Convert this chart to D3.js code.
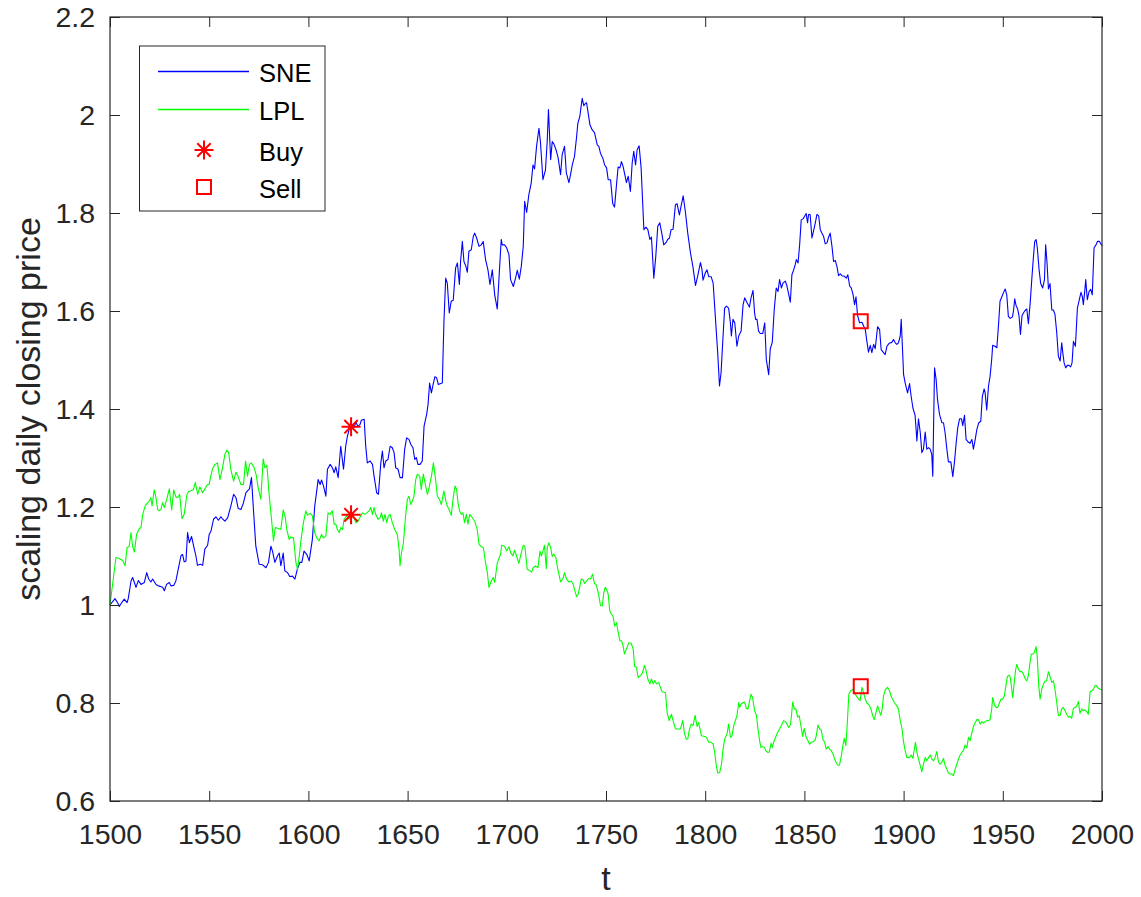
<!DOCTYPE html>
<html>
<head>
<meta charset="utf-8">
<script src="https://cdn.jsdelivr.net/npm/d3@7"></script>
<style>
  html, body { margin: 0; padding: 0; background: #fff; }
  svg { display: block; }
  text { font-family: "Liberation Sans", Arial, Helvetica, sans-serif; }
</style>
</head>
<body>
<svg id="chart" width="1141" height="897"></svg>
<script>
// ---------------- data ----------------
const xTicks = [1500, 1550, 1600, 1650, 1700, 1750, 1800, 1850, 1900, 1950, 2000];
const yTicks = [0.6, 0.8, 1.0, 1.2, 1.4, 1.6, 1.8, 2.0, 2.2];
const yTickLabels = ["0.6", "0.8", "1", "1.2", "1.4", "1.6", "1.8", "2", "2.2"];
const xLabel = "t";
const yLabel = "scaling daily closing price";
const legendLabels = ["SNE", "LPL", "Buy", "Sell"];

// SNE scaled closing price [t, value]
const sne = [
[1500,1.000],[1502.5,1.013],[1503.9,1.004],[1504.7,0.997],[1505.9,1.005],[1507.2,1.012],[1508.6,1.005],[1509.2,1.013],
[1510.6,1.049],[1511.4,1.056],[1512.3,1.046],[1513.1,1.036],[1514.3,1.050],[1515.6,1.042],[1517.3,1.046],[1518.5,1.066],
[1519.5,1.053],[1520.6,1.047],[1521.5,1.053],[1523.2,1.042],[1524.3,1.039],[1525.4,1.038],[1526.5,1.036],[1527.4,1.029],
[1528.5,1.042],[1529.9,1.046],[1530.7,1.039],[1532.1,1.040],[1533.2,1.049],[1534.4,1.073],[1535.8,1.101],[1536.6,1.103],
[1537.4,1.088],[1538.3,1.090],[1539.1,1.148],[1540.0,1.127],[1541.1,1.140],[1542.5,1.114],[1543.3,1.100],[1544.1,1.081],
[1545.5,1.083],[1546.7,1.081],[1547.8,1.114],[1549.2,1.122],[1550.0,1.144],[1550.9,1.151],[1552.2,1.175],[1553.4,1.180],
[1554.6,1.173],[1555.9,1.180],[1556.7,1.176],[1557.9,1.171],[1559.3,1.178],[1560.9,1.202],[1562.3,1.226],[1563.5,1.219],
[1564.6,1.197],[1566.0,1.195],[1567.3,1.209],[1568.5,1.229],[1569.3,1.233],[1570.3,1.237],[1571.3,1.260],[1572.3,1.195],
[1573.5,1.120],[1575.2,1.083],[1576.9,1.082],[1578.6,1.076],[1579.9,1.087],[1581.1,1.120],[1581.9,1.110],[1583.1,1.087],
[1584.4,1.100],[1585.3,1.106],[1586.1,1.080],[1587.3,1.106],[1588.1,1.070],[1589.5,1.066],[1590.6,1.058],[1592.0,1.059],
[1593.2,1.053],[1594.5,1.074],[1595.7,1.087],[1596.7,1.087],
[1597.8,1.110],[1599.2,1.103],[1600.4,1.090],[1602.0,1.134],[1603.2,1.202],[1604.2,1.233],[1604.9,1.256],[1605.9,1.246],
[1606.6,1.255],[1607.6,1.243],[1608.8,1.222],[1609.6,1.277],[1611.0,1.287],[1612.1,1.280],[1613.0,1.270],[1613.8,1.282],
[1615.0,1.260],[1616.3,1.324],[1617.7,1.277],[1618.8,1.324],[1619.7,1.345],[1621.0,1.365],[1622.2,1.368],[1623.0,1.362],
[1623.9,1.373],[1625.0,1.365],[1626.0,1.368],[1626.7,1.377],[1628.1,1.379],[1628.9,1.324],[1629.7,1.290],[1631.1,1.294],
[1632.3,1.287],[1633.1,1.263],[1634.4,1.229],[1635.3,1.226],[1636.5,1.290],[1637.3,1.314],[1638.1,1.280],[1639.0,1.294],
[1640.1,1.297],[1641.2,1.324],[1642.3,1.321],[1643.2,1.311],[1644.0,1.280],[1645.2,1.277],[1646.2,1.260],[1647.4,1.260],
[1648.5,1.317],[1649.5,1.341],[1650.7,1.338],[1651.6,1.328],[1652.7,1.321],[1653.6,1.297],[1654.4,1.301],[1655.2,1.287],
[1656.3,1.287],[1657.4,1.294],[1658.3,1.365],[1659.6,1.389],[1660.3,1.409],[1661.1,1.453],[1662.0,1.433],[1663.0,1.453],
[1663.8,1.466],[1664.6,1.464],[1665.5,1.450],[1666.7,1.452],[1667.5,1.453],[1668.3,1.576],[1669.2,1.667],[1670.0,1.657],
[1671.0,1.596],[1672.0,1.620],[1673.0,1.622],[1674.2,1.688],[1675.1,1.698],[1676.1,1.654],[1676.7,1.701],[1677.6,1.742],
[1678.4,1.701],[1679.4,1.691],[1680.1,1.679],[1680.9,1.722],[1682.1,1.725],[1683.1,1.752],[1683.8,1.759],[1684.8,1.749],
[1686.0,1.732],[1687.1,1.735],[1688.1,1.742],[1689.3,1.705],[1690.5,1.684],[1691.5,1.654],[1692.7,1.684],[1693.9,1.633],
[1695.2,1.604],[1696.4,1.691],[1697.2,1.746],
[1697.7,1.735],[1698.9,1.735],[1699.9,1.729],[1701.1,1.715],[1701.9,1.664],[1703.3,1.650],[1704.4,1.667],[1705.3,1.683],
[1706.3,1.665],[1707.3,1.691],[1708.3,1.732],[1709.0,1.824],[1710.0,1.801],[1711.1,1.837],[1712.3,1.861],[1713.2,1.898],
[1714.0,1.890],[1715.0,1.936],[1716.2,1.973],[1717.0,1.943],[1718.2,1.868],[1719.5,1.888],[1720.4,1.949],[1721.0,2.011],
[1722.1,1.909],[1722.9,1.946],[1723.7,1.941],[1724.9,1.928],[1725.9,1.912],[1727.1,1.878],[1727.9,1.919],[1729.1,1.936],
[1730.0,1.882],[1731.3,1.862],[1732.1,1.878],[1733.0,1.898],[1734.1,1.915],[1735.2,1.956],[1735.8,1.983],[1736.8,1.997],
[1738.0,2.034],[1738.8,2.019],[1739.7,2.024],[1740.2,2.025],[1740.9,2.007],[1741.9,1.980],[1743.0,1.970],[1744.2,1.964],
[1745.6,1.939],[1746.4,1.936],[1747.2,1.922],[1748.4,1.912],[1749.3,1.898],[1750.3,1.892],[1751.1,1.868],[1752.3,1.868],
[1753.4,1.819],[1754.3,1.812],[1755.3,1.858],[1756.1,1.894],[1757.0,1.892],[1757.8,1.905],[1758.6,1.895],[1759.5,1.878],
[1760.3,1.862],[1761.2,1.875],[1762.3,1.844],[1763.2,1.902],[1764.0,1.926],[1764.9,1.898],[1765.7,1.929],[1766.7,1.937],
[1767.7,1.892],[1769.1,1.766],[1770.1,1.771],[1771.1,1.766],[1772.1,1.746],[1772.9,1.751],[1774.1,1.667],[1775.1,1.712],
[1776.1,1.773],[1777.1,1.780],[1778.1,1.759],[1779.1,1.735],[1780.3,1.740],[1781.1,1.746],[1782.0,1.749],[1782.8,1.766],
[1783.8,1.767],[1785.0,1.817],[1785.8,1.819],[1787.0,1.796],[1787.8,1.813],[1788.9,1.835],[1790.0,1.803],[1791.2,1.759],
[1792.6,1.718],[1793.9,1.688],[1795.1,1.652],[1796.2,1.671],
[1797.6,1.699],[1798.4,1.684],[1798.9,1.663],[1800.1,1.678],[1800.9,1.684],[1801.8,1.670],[1803.0,1.670],[1804.0,1.657],
[1805.1,1.589],[1806.3,1.515],[1807.2,1.447],[1808.0,1.474],[1809.0,1.549],[1809.8,1.606],[1810.7,1.610],[1811.8,1.606],
[1812.7,1.576],[1813.2,1.549],[1814.0,1.583],[1814.9,1.576],[1816.0,1.528],[1816.9,1.549],[1818.1,1.559],[1819.1,1.613],
[1819.9,1.627],[1821.1,1.617],[1822.3,1.608],[1823.1,1.627],[1824.1,1.642],[1824.9,1.596],[1825.4,1.583],[1826.1,1.583],
[1826.9,1.559],[1827.8,1.554],[1829.0,1.554],[1830.0,1.576],[1830.8,1.501],[1832.0,1.470],[1832.8,1.523],[1833.8,1.536],
[1834.8,1.603],[1835.8,1.647],[1836.7,1.640],[1837.5,1.664],[1838.4,1.647],[1839.2,1.657],[1840.4,1.661],[1841.2,1.651],
[1842.1,1.634],[1842.9,1.618],[1843.7,1.674],[1844.6,1.684],[1845.4,1.695],[1845.9,1.705],[1846.8,1.698],[1847.6,1.735],
[1848.4,1.786],[1849.3,1.788],[1849.9,1.792],[1850.9,1.799],[1851.6,1.780],[1852.1,1.797],[1852.9,1.797],[1853.8,1.749],
[1854.6,1.763],[1855.5,1.780],[1856.3,1.797],[1857.2,1.794],[1858.0,1.766],[1858.8,1.759],[1859.7,1.752],[1860.5,1.737],
[1861.4,1.739],[1862.2,1.751],[1863.0,1.759],[1863.9,1.732],[1864.7,1.701],[1865.6,1.703],[1866.4,1.691],[1867.2,1.672],
[1868.1,1.676],[1868.9,1.672],[1870.1,1.671],[1871.1,1.667],[1871.9,1.674],[1872.8,1.651],[1873.6,1.647],[1874.5,1.634],
[1875.3,1.613],[1876.0,1.629],[1876.8,1.591],[1877.8,1.576],[1879.0,1.577],[1879.8,1.570],[1880.7,1.562],[1881.5,1.538],
[1882.3,1.516],[1883.2,1.530],[1884.0,1.515],[1884.9,1.532],[1885.7,1.523],[1886.9,1.568],[1887.9,1.562],[1888.7,1.521],
[1889.9,1.515],[1890.7,1.511],[1891.6,1.528],[1892.7,1.534],[1894.1,1.536],[1894.9,1.542],[1895.8,1.535],[1896.6,1.532],
[1897.4,1.535],[1898.3,1.549],[1898.8,1.583],
[1900.0,1.470],[1900.8,1.453],[1902.0,1.433],[1903.0,1.452],[1903.8,1.426],[1904.7,1.402],[1905.8,1.387],[1906.7,1.335],
[1907.5,1.380],[1908.4,1.352],[1909.2,1.311],[1910.0,1.318],[1910.9,1.353],[1911.7,1.318],[1912.6,1.321],[1913.4,1.318],
[1914.2,1.307],[1914.7,1.263],[1915.6,1.484],[1916.4,1.460],[1917.1,1.419],[1918.1,1.389],[1919.3,1.372],[1920.1,1.372],
[1920.9,1.352],[1921.8,1.318],[1922.6,1.292],[1923.8,1.292],[1924.8,1.262],[1925.6,1.290],[1926.5,1.331],[1927.3,1.362],
[1928.2,1.380],[1929.2,1.380],[1929.8,1.366],[1930.7,1.387],[1931.5,1.338],[1932.7,1.332],[1933.5,1.330],[1934.4,1.338],
[1935.2,1.318],[1936.1,1.338],[1936.9,1.358],[1937.9,1.372],[1938.9,1.375],[1939.7,1.426],[1940.6,1.441],[1941.1,1.433],
[1941.9,1.398],[1942.8,1.447],[1943.6,1.467],[1944.4,1.501],[1944.9,1.530],[1946.1,1.528],[1947.0,1.525],[1947.8,1.569],
[1948.6,1.620],[1949.5,1.629],[1950.3,1.637],[1951.2,1.645],[1952.0,1.633],[1952.8,1.589],[1953.7,1.585],[1954.9,1.588],
[1955.5,1.604],[1956.0,1.625],[1956.7,1.611],[1957.5,1.604],[1958.2,1.589],[1958.9,1.552],[1959.7,1.591],[1960.4,1.596],
[1961.2,1.601],[1962.1,1.604],[1962.9,1.574],[1963.8,1.616],[1964.6,1.664],[1965.4,1.708],[1966.1,1.742],[1966.8,1.746],
[1967.4,1.729],[1968.3,1.684],[1969.1,1.656],[1970.1,1.647],[1971.0,1.664],[1971.6,1.735],[1972.3,1.698],[1973.0,1.645],
[1973.8,1.656],[1974.7,1.602],[1975.5,1.602],[1976.3,1.593],[1977.2,1.555],[1978.0,1.508],[1978.9,1.498],[1979.7,1.535],
[1980.2,1.516],[1980.9,1.494],[1981.7,1.484],[1982.5,1.489],[1983.4,1.489],[1984.2,1.486],[1984.9,1.494],[1985.6,1.538],
[1986.6,1.528],[1987.6,1.606],[1988.4,1.620],[1989.4,1.638],[1990.1,1.629],[1990.6,1.613],[1991.3,1.640],[1991.8,1.664],
[1992.6,1.623],[1993.5,1.640],[1994.3,1.644],[1995.1,1.633],[1996.0,1.729],[1997.0,1.735],[1997.7,1.742],[1998.7,1.742],
[2000.0,1.733]
];

// LPL scaled closing price [t, value]
const lpl = [
[1500,1.000],[1503.0,1.097],[1504.7,1.095],[1506.4,1.091],[1507.6,1.080],[1508.6,1.117],[1509.7,1.120],[1510.6,1.148],
[1511.4,1.120],[1512.3,1.108],[1513.4,1.144],[1514.8,1.156],[1515.6,1.158],[1516.5,1.185],[1517.8,1.203],[1519.0,1.209],
[1519.8,1.212],[1520.6,1.219],[1521.2,1.202],[1522.3,1.235],[1523.2,1.219],[1524.0,1.195],[1524.8,1.192],[1525.7,1.195],
[1526.5,1.209],[1527.4,1.199],[1528.5,1.214],[1529.9,1.237],[1531.1,1.194],[1532.1,1.235],[1533.2,1.221],[1534.1,1.219],
[1535.1,1.226],[1536.3,1.176],[1537.4,1.185],[1538.8,1.226],[1539.5,1.231],[1540.8,1.233],[1542.0,1.235],[1543.0,1.250],
[1544.2,1.226],[1545.3,1.241],[1546.7,1.229],[1547.8,1.237],[1549.2,1.246],[1550.0,1.246],[1550.9,1.265],[1551.7,1.278],
[1552.9,1.287],[1554.2,1.290],[1555.4,1.256],[1556.7,1.280],[1557.9,1.307],[1558.9,1.316],[1559.8,1.311],[1560.9,1.277],
[1562.3,1.253],[1563.5,1.271],[1564.6,1.262],[1566.0,1.246],[1567.3,1.246],[1568.3,1.294],[1569.3,1.263],[1570.3,1.287],
[1571.3,1.290],[1572.7,1.280],[1573.7,1.265],[1574.7,1.239],[1576.0,1.216],[1577.2,1.298],[1578.1,1.280],[1579.1,1.285],
[1580.2,1.226],[1581.4,1.175],[1582.4,1.131],[1583.3,1.158],[1584.8,1.156],[1586.1,1.154],[1587.3,1.194],[1588.3,1.180],
[1589.1,1.154],[1590.3,1.134],[1591.2,1.139],[1592.5,1.137],[1593.7,1.087],[1594.5,1.073],[1595.4,1.100],
[1596.2,1.131],[1597.5,1.168],[1598.7,1.192],[1599.5,1.183],[1600.9,1.187],[1602.0,1.182],[1603.2,1.148],[1604.2,1.137],
[1605.4,1.131],[1606.6,1.144],[1607.6,1.137],[1608.8,1.141],[1609.9,1.188],[1610.9,1.185],[1612.1,1.192],[1613.0,1.165],
[1613.8,1.165],[1614.6,1.154],[1615.5,1.148],[1616.3,1.158],[1617.2,1.154],[1618.0,1.175],[1619.3,1.182],[1620.5,1.175],
[1621.7,1.188],[1622.7,1.182],[1623.9,1.168],[1625.0,1.171],[1626.4,1.182],[1627.2,1.188],[1628.4,1.185],[1629.4,1.188],
[1630.6,1.192],[1631.4,1.199],[1632.3,1.185],[1633.1,1.199],[1633.9,1.185],[1635.1,1.175],[1636.1,1.178],[1636.8,1.188],
[1637.8,1.171],[1638.6,1.185],[1639.5,1.168],[1640.3,1.182],[1641.2,1.185],[1642.3,1.168],[1643.5,1.154],[1644.8,1.144],
[1645.7,1.114],[1646.2,1.080],[1646.9,1.107],[1647.9,1.127],[1649.0,1.182],[1649.9,1.216],[1650.7,1.222],[1651.6,1.205],
[1652.4,1.212],[1653.2,1.222],[1654.1,1.256],[1654.9,1.267],[1656.1,1.263],[1656.9,1.236],[1657.9,1.267],[1659.1,1.243],
[1660.0,1.226],[1660.8,1.239],[1662.0,1.263],[1663.0,1.290],[1664.1,1.256],[1665.0,1.222],[1666.0,1.216],[1667.0,1.205],
[1668.3,1.233],[1669.3,1.212],[1670.0,1.202],[1670.9,1.195],[1672.0,1.183],[1673.0,1.219],[1673.9,1.243],[1674.7,1.236],
[1675.4,1.209],[1676.2,1.192],[1677.1,1.185],[1677.9,1.188],[1678.7,1.168],[1679.6,1.185],[1680.4,1.165],[1681.3,1.185],
[1682.6,1.178],[1683.8,1.171],[1685.1,1.154],[1686.0,1.124],[1686.8,1.120],[1688.2,1.117],[1689.3,1.086],[1690.2,1.066],
[1691.0,1.036],[1692.2,1.049],[1693.2,1.056],[1693.9,1.046],[1695.2,1.086],
[1696.9,1.104],[1697.4,1.122],[1698.9,1.120],[1699.9,1.110],[1701.1,1.119],[1701.9,1.107],[1703.1,1.100],[1703.9,1.112],
[1704.9,1.100],[1706.1,1.085],[1707.3,1.107],[1708.3,1.122],[1709.1,1.120],[1710.3,1.073],[1711.6,1.070],[1712.5,1.067],
[1713.3,1.076],[1714.5,1.080],[1715.7,1.076],[1716.7,1.110],[1717.4,1.100],[1718.0,1.107],[1719.0,1.122],[1719.9,1.074],
[1720.4,1.117],[1721.2,1.127],[1722.1,1.117],[1722.9,1.099],[1723.7,1.104],[1724.7,1.097],[1725.7,1.073],[1727.1,1.047],
[1728.3,1.054],[1729.1,1.066],[1730.1,1.053],[1731.3,1.047],[1732.5,1.049],[1733.5,1.042],[1734.3,1.029],[1735.2,1.017],
[1736.0,1.022],[1736.7,1.036],[1737.5,1.053],[1738.5,1.051],[1739.2,1.044],[1740.2,1.049],[1741.2,1.054],[1742.2,1.053],
[1743.2,1.063],[1744.2,1.044],[1745.2,1.040],[1746.4,1.019],[1747.2,0.999],[1748.1,0.998],[1748.9,1.025],[1749.6,1.036],
[1750.3,1.032],[1751.1,1.022],[1751.9,0.988],[1752.8,0.981],[1753.6,0.976],[1754.4,0.957],[1755.3,0.964],[1756.0,0.947],
[1757.0,0.927],[1757.8,0.927],[1758.6,0.917],[1759.3,0.900],[1760.3,0.910],[1761.5,0.923],[1762.7,0.922],[1763.7,0.910],
[1764.4,0.875],[1765.4,0.873],[1766.2,0.852],[1767.4,0.856],[1768.4,0.862],[1769.4,0.877],[1770.2,0.866],[1771.1,0.849],
[1772.1,0.839],[1772.9,0.849],[1773.8,0.839],[1774.6,0.846],[1775.4,0.839],[1776.6,0.842],[1777.4,0.832],[1778.3,0.823],
[1780.0,0.821],[1780.8,0.781],[1781.8,0.764],[1783.0,0.777],[1783.8,0.764],[1785.0,0.747],[1786.2,0.747],[1787.5,0.747],
[1788.7,0.764],[1789.5,0.739],[1790.5,0.726],[1791.2,0.726],[1791.9,0.743],[1792.9,0.757],[1793.9,0.754],[1794.9,0.775],
[1795.9,0.752],[1796.7,0.760],
[1798.1,0.733],[1799.3,0.732],[1800.6,0.730],[1801.8,0.720],[1803.0,0.720],[1804.0,0.716],[1804.8,0.699],[1805.6,0.672],
[1806.3,0.657],[1807.3,0.658],[1808.2,0.675],[1809.0,0.706],[1809.8,0.726],[1811.0,0.737],[1811.8,0.757],[1812.7,0.730],
[1813.5,0.733],[1814.4,0.754],[1815.2,0.764],[1816.0,0.774],[1816.9,0.801],[1817.4,0.791],[1818.1,0.798],[1819.1,0.801],
[1819.9,0.802],[1820.7,0.789],[1821.6,0.788],[1822.4,0.805],[1823.1,0.818],[1823.9,0.811],[1824.9,0.784],[1825.8,0.775],
[1826.6,0.747],[1827.5,0.721],[1828.1,0.709],[1829.0,0.711],[1829.8,0.709],[1830.6,0.703],[1831.5,0.699],[1832.3,0.700],
[1833.2,0.718],[1833.8,0.709],[1834.5,0.720],[1835.5,0.730],[1836.5,0.740],[1837.5,0.747],[1838.5,0.755],[1839.5,0.764],
[1840.4,0.762],[1841.2,0.757],[1842.1,0.750],[1842.9,0.755],[1843.4,0.771],[1844.1,0.802],[1844.9,0.788],[1845.7,0.788],
[1846.6,0.771],[1847.4,0.774],[1848.3,0.752],[1849.1,0.732],[1849.9,0.748],[1850.9,0.730],[1851.8,0.723],[1852.6,0.716],
[1853.5,0.720],[1854.3,0.721],[1855.2,0.723],[1856.0,0.733],[1856.8,0.755],[1857.7,0.747],[1858.5,0.745],[1859.3,0.726],
[1860.2,0.720],[1861.0,0.706],[1861.9,0.711],[1862.7,0.706],[1863.5,0.703],[1864.4,0.696],[1865.2,0.686],[1866.1,0.677],
[1866.9,0.673],[1867.7,0.673],[1868.6,0.692],[1869.4,0.713],[1870.1,0.728],[1870.9,0.713],[1871.6,0.757],[1872.4,0.818],
[1873.4,0.825],[1874.5,0.828],[1875.1,0.821],[1876.1,0.815],[1877.3,0.808],[1878.1,0.805],[1879.0,0.832],[1879.8,0.821],
[1880.7,0.808],[1881.5,0.800],[1882.7,0.796],[1883.5,0.788],[1884.5,0.773],[1885.2,0.766],[1886.0,0.779],[1886.9,0.794],
[1887.7,0.784],[1888.5,0.775],[1889.2,0.788],[1889.9,0.815],[1890.9,0.828],[1891.9,0.832],[1892.9,0.825],[1893.6,0.815],
[1894.4,0.808],[1895.3,0.801],[1896.6,0.794],[1897.4,0.788],
[1898.3,0.764],[1899.1,0.750],[1900.0,0.720],[1900.8,0.703],[1901.6,0.689],[1903.0,0.689],[1903.8,0.694],[1904.7,0.687],
[1905.3,0.703],[1906.0,0.720],[1906.7,0.699],[1907.5,0.686],[1908.4,0.672],[1909.2,0.660],[1910.0,0.675],[1910.9,0.689],
[1911.7,0.682],[1912.6,0.689],[1913.4,0.694],[1914.2,0.686],[1915.1,0.682],[1915.9,0.689],[1916.7,0.701],[1917.6,0.680],
[1918.4,0.675],[1919.3,0.679],[1920.1,0.687],[1920.9,0.673],[1921.8,0.665],[1922.6,0.657],[1923.5,0.655],[1924.3,0.655],
[1925.1,0.652],[1926.0,0.665],[1926.8,0.675],[1927.7,0.686],[1928.5,0.694],[1929.3,0.699],[1930.2,0.703],[1931.0,0.714],
[1931.9,0.709],[1932.7,0.730],[1933.5,0.723],[1934.4,0.739],[1935.2,0.752],[1936.1,0.760],[1936.9,0.766],[1937.7,0.766],
[1938.6,0.757],[1939.4,0.762],[1940.3,0.759],[1941.1,0.762],[1941.9,0.764],[1942.8,0.764],[1943.6,0.766],[1944.4,0.788],
[1944.9,0.811],[1945.8,0.796],[1946.6,0.791],[1947.5,0.791],[1948.3,0.800],[1949.1,0.808],[1950.0,0.808],[1950.8,0.815],
[1951.7,0.839],[1952.3,0.854],[1953.2,0.857],[1953.8,0.852],[1954.5,0.828],[1955.0,0.811],[1955.7,0.839],[1956.4,0.866],
[1957.0,0.879],[1957.9,0.869],[1958.7,0.864],[1959.6,0.864],[1960.4,0.859],[1961.2,0.850],[1962.1,0.845],[1962.9,0.856],
[1963.7,0.883],[1964.4,0.900],[1965.4,0.900],[1965.9,0.903],[1966.8,0.915],[1967.4,0.893],[1968.1,0.835],[1968.8,0.808],
[1969.6,0.828],[1970.5,0.839],[1971.3,0.845],[1972.1,0.845],[1973.0,0.864],[1973.8,0.854],[1974.7,0.842],[1975.5,0.845],
[1976.3,0.828],[1977.2,0.801],[1978.0,0.774],[1978.9,0.775],[1979.7,0.788],[1980.5,0.791],[1981.4,0.784],[1982.2,0.777],
[1983.1,0.771],[1983.9,0.773],[1984.7,0.769],[1985.6,0.789],[1986.4,0.791],[1987.2,0.793],[1988.1,0.803],[1988.9,0.779],
[1989.8,0.788],[1990.6,0.784],[1991.4,0.786],[1992.3,0.782],[1993.1,0.777],[1994.0,0.823],[1994.8,0.825],[1995.6,0.828],
[1996.5,0.835],[1997.0,0.836],[1998.2,0.830],[1999.0,0.828],[2000.0,0.827]
];

// trade signals [t, value]
const buyPoints = [[1621.5, 1.364], [1621.5, 1.184]];
const sellPoints = [[1878.4, 1.579], [1878.4, 0.834]];

// ---------------- drawing ----------------
const W = 1141, H = 897;
const plot = { left: 110, right: 1102, top: 17, bottom: 801 };
const axisColor = "#262626";
const FONT_TICK = 28.5, FONT_LABEL = 34, FONT_LEGEND = 25.5;

const svg = d3.select("#chart");
svg.append("rect").attr("width", W).attr("height", H).attr("fill", "#fff");

const x = d3.scaleLinear().domain([1500, 2000]).range([plot.left, plot.right]);
const y = d3.scaleLinear().domain([0.6, 2.2]).range([plot.bottom, plot.top]);

const line = d3.line().x(d => x(d[0])).y(d => y(d[1]));

svg.append("path").datum(sne).attr("d", line)
  .attr("fill", "none").attr("stroke", "#0000ff").attr("stroke-width", 1.1).attr("stroke-linejoin", "round");
svg.append("path").datum(lpl).attr("d", line)
  .attr("fill", "none").attr("stroke", "#00ff00").attr("stroke-width", 1.1).attr("stroke-linejoin", "round");

// markers
function asteriskPath(r) {
  const d = r * Math.SQRT1_2;
  return `M${-r},0L${r},0M0,${-r}L0,${r}M${-d},${-d}L${d},${d}M${-d},${d}L${d},${-d}`;
}
function squarePath(s) {
  const h = s / 2;
  return `M${-h},${-h}H${h}V${h}H${-h}Z`;
}
svg.append("g").selectAll("path").data(buyPoints).join("path")
  .attr("transform", d => `translate(${x(d[0])},${y(d[1])})`)
  .attr("d", asteriskPath(9.5)).attr("fill", "none").attr("stroke", "#ff0000").attr("stroke-width", 2);
svg.append("g").selectAll("path").data(sellPoints).join("path")
  .attr("transform", d => `translate(${x(d[0])},${y(d[1])})`)
  .attr("d", squarePath(14)).attr("fill", "none").attr("stroke", "#ff0000").attr("stroke-width", 2);

// axes
function styleAxis(g) {
  g.select(".domain").remove();
  g.selectAll(".tick line").attr("stroke", axisColor).attr("stroke-width", 1);
  g.selectAll(".tick text").attr("fill", axisColor)
    .style("font-family", '"Liberation Sans", Arial, Helvetica, sans-serif');
}

svg.append("g").attr("transform", `translate(0,${plot.bottom})`)
  .call(d3.axisBottom(x).tickValues(xTicks).tickFormat(d3.format("d")).tickSizeInner(-10).tickSizeOuter(0).tickPadding(23))
  .call(styleAxis)
  .call(g => g.selectAll(".tick text").attr("font-size", FONT_TICK));

svg.append("g").attr("transform", `translate(0,${plot.top})`)
  .call(d3.axisTop(x).tickValues(xTicks).tickFormat("").tickSizeInner(-10).tickSizeOuter(0))
  .call(styleAxis);

svg.append("g").attr("transform", `translate(${plot.left},0)`)
  .call(d3.axisLeft(y).tickValues(yTicks).tickFormat((d, i) => yTickLabels[i]).tickSizeInner(-10).tickSizeOuter(0).tickPadding(15))
  .call(styleAxis)
  .call(g => g.selectAll(".tick text").attr("font-size", FONT_TICK));

svg.append("g").attr("transform", `translate(${plot.right},0)`)
  .call(d3.axisRight(y).tickValues(yTicks).tickFormat("").tickSizeInner(-10).tickSizeOuter(0))
  .call(styleAxis);

// box
svg.append("rect")
  .attr("x", plot.left).attr("y", plot.top)
  .attr("width", plot.right - plot.left).attr("height", plot.bottom - plot.top)
  .attr("fill", "none").attr("stroke", axisColor).attr("stroke-width", 1.2);

// axis labels
svg.append("text").text(xLabel)
  .attr("x", (plot.left + plot.right) / 2).attr("y", 890)
  .attr("text-anchor", "middle").attr("font-size", FONT_LABEL).attr("fill", axisColor);

svg.append("text").text(yLabel)
  .attr("transform", `translate(40,${(plot.top + plot.bottom) / 2}) rotate(-90)`)
  .attr("text-anchor", "middle").attr("font-size", FONT_LABEL).attr("fill", axisColor);

// legend
const lg = svg.append("g");
lg.append("rect").attr("x", 139.5).attr("y", 46).attr("width", 185.5).attr("height", 165)
  .attr("fill", "#fff").attr("stroke", axisColor).attr("stroke-width", 1);
const rows = [71.5, 109.5, 150, 187];
const lineX0 = 158, lineX1 = 249, markX = 204, textX = 259;
lg.append("line").attr("x1", lineX0).attr("x2", lineX1).attr("y1", rows[0]).attr("y2", rows[0])
  .attr("stroke", "#0000ff").attr("stroke-width", 1.3);
lg.append("line").attr("x1", lineX0).attr("x2", lineX1).attr("y1", rows[1]).attr("y2", rows[1])
  .attr("stroke", "#00ff00").attr("stroke-width", 1.3);
lg.append("path").attr("transform", `translate(${markX},${rows[2]})`).attr("d", asteriskPath(9.5))
  .attr("fill", "none").attr("stroke", "#ff0000").attr("stroke-width", 2);
lg.append("path").attr("transform", `translate(${markX},${rows[3]})`).attr("d", squarePath(14))
  .attr("fill", "none").attr("stroke", "#ff0000").attr("stroke-width", 2);
lg.selectAll("text.lab").data(legendLabels).join("text").attr("class", "lab")
  .attr("x", textX).attr("y", (d, i) => rows[i] + 0.36 * FONT_LEGEND + 1.5)
  .attr("font-size", FONT_LEGEND).attr("fill", "#000").text(d => d);
</script>
</body>
</html>
